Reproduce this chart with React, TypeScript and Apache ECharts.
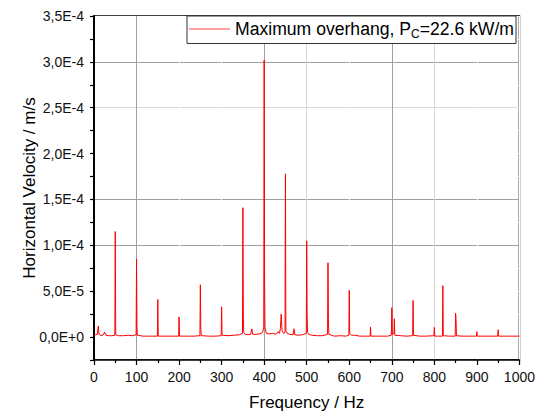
import React, { useEffect, useRef } from 'react';
import * as echarts from 'echarts';

// Frequency (Hz) and horizontal velocity (in 1e-6 m/s)
const FREQ = [
  0, 4, 8, 10, 12, 16, 22, 25, 28, 35, 42, 49, 50, 51, 58, 70, 80, 90, 99, 100, 101, 102,
  115, 130, 149, 150, 151, 170, 185, 199, 200, 201, 220, 235, 249, 250, 251, 252, 270, 285,
  299, 300, 301, 315, 330, 342, 349, 350, 351, 352, 355, 362, 368, 371, 373, 380, 390, 396,
  399, 400, 401, 402, 405, 412, 420, 428, 433, 436, 438, 440, 442, 444, 447, 449, 450, 451,
  454, 460, 468, 470, 472, 480, 490, 499, 500, 501, 502, 505, 512, 525, 538, 549, 550, 551,
  552, 558, 565, 580, 592, 599, 600, 601, 605, 612, 625, 640, 649, 650, 651, 665, 680, 690,
  699, 700, 701, 705, 706, 707, 720, 735, 749, 750, 751, 765, 780, 799, 800, 801, 810, 819,
  820, 821, 835, 849, 850, 851, 852, 865, 880, 899, 900, 901, 915, 930, 949, 950, 951, 970,
  985, 1000,
];
const VEL_E6 = [
  2, 2.5, 3, 12, 3, 1.5, 2.5, 5.5, 2, 1.5, 1.5, 2, 115, 2.5, 1.5, 1.5, 2, 1.5, 2.5, 85, 11, 2,
  1, 1, 1, 41, 1, 1, 1, 1, 22, 1, 1, 1, 1.5, 57, 10, 1.5, 1, 1,
  1.5, 33, 2, 1.5, 2, 2.5, 4, 141, 22, 5, 3, 2.5, 3, 9, 3, 3, 3.5, 5,
  10, 302, 61, 10, 4, 3.5, 4, 3, 6, 4, 9, 25, 7, 5, 4, 6, 178, 7,
  4, 3, 2.5, 9, 2.5, 2, 2.5, 4, 105, 23, 5, 3, 2, 1.5, 1.5, 3, 81, 19,
  3, 2, 1, 1.5, 1, 2, 51, 4, 2, 2, 1, 1, 1, 11, 1, 1, 1, 1,
  2, 32, 3, 4, 20, 2, 1.5, 1, 1.5, 40, 2, 1, 1, 1.5, 10.5, 1, 1, 1,
  56, 1.5, 1, 1, 26, 19, 1.5, 1, 1, 1, 6, 1, 1, 1, 1, 8, 1, 1,
  1, 1,
];

const SERIES_NAME = 'Maximum overhang';
const Y_MAJOR = [0, 5e-5, 1e-4, 1.5e-4, 2e-4, 2.5e-4, 3e-4, 3.5e-4];
const Y_LABELS = ['0,0E+0', '5,0E-5', '1,0E-4', '1,5E-4', '2,0E-4', '2,5E-4', '3,0E-4', '3,5E-4'];
const GRID_X_STRONG = [100, 400, 700];
const GRID_X_LIGHT = [500, 800];
const GRID_Y_STRONG = [3e-4, 1.5e-4, 1e-4];
const GRID_Y_LIGHT = [2.5e-4];

const FONT = '"Liberation Sans", Arial, sans-serif';
const X_MIN = 0;
const X_MAX = 1000;
const X_STEP = 100;
const Y_MIN = -2.5e-5;
const Y_MAX = 3.5e-4;
const Y_STEP = 2.5e-5;

const STRONG = '#a0a0a0';
const LIGHT = '#d8d8d8';
const NONE = '#ffffff';

function yLabel(v: number): string {
  for (let i = 0; i < Y_MAJOR.length; i++) {
    if (Math.abs(v - Y_MAJOR[i]) < 1e-9) return Y_LABELS[i];
  }
  return '';
}

// colour of each split line, one per tick counted from the axis minimum
function splitColors(min: number, max: number, step: number, strong: number[], light: number[]): string[] {
  const n = Math.round((max - min) / step) + 1;
  const out: string[] = [];
  for (let i = 0; i < n; i++) {
    const v = min + i * step;
    const eps = step * 1e-3;
    let c = NONE;
    if (strong.some((g) => Math.abs(g - v) < eps)) c = STRONG;
    if (light.some((g) => Math.abs(g - v) < eps)) c = LIGHT;
    out.push(c);
  }
  return out;
}

export default function App() {
  const ref = useRef<HTMLDivElement>(null);
  useEffect(() => {
    if (!ref.current) return;
    const chart = echarts.init(ref.current, undefined, { renderer: 'svg' });
    const data = FREQ.map((f, i) => [f, VEL_E6[i] * 1e-6]);
    chart.setOption({
      animation: false,
      grid: { left: 94, right: 17, top: 16, bottom: 55, show: true, borderColor: '#000', borderWidth: 1.5, backgroundColor: 'transparent' },
      legend: {
        left: 187,
        top: 16,
        padding: [4, 2, 4, 2],
        borderColor: '#333',
        borderWidth: 1,
        borderRadius: 0,
        backgroundColor: '#fff',
        itemWidth: 41,
        itemHeight: 1.2,
        icon: 'rect',
        itemStyle: { color: '#ff4040' },
        data: [{ name: SERIES_NAME, icon: 'rect' }],
        formatter: () => '{a|Maximum overhang, P}{s|C}{a|=22.6 kW/m}',
        textStyle: {
          color: '#000',
          fontFamily: FONT,
          rich: {
            a: { fontSize: 17.6, lineHeight: 21, fontFamily: FONT, color: '#000', verticalAlign: 'middle' },
            s: { fontSize: 12, lineHeight: 9, fontFamily: FONT, color: '#000', verticalAlign: 'bottom' },
          },
        },
      },
      xAxis: {
        type: 'value', min: X_MIN, max: X_MAX, interval: X_STEP,
        axisLine: { show: true, onZero: false, lineStyle: { color: '#000', width: 1.5 } },
        axisTick: { show: true, inside: false, length: 5, lineStyle: { color: '#000', width: 1.2 } },
        minorTick: { show: true, splitNumber: 2, length: 3, lineStyle: { color: '#000', width: 1.2 } },
        axisLabel: { fontSize: 14, color: '#111', margin: 10, fontFamily: FONT, formatter: (v: number) => String(v) },
        splitLine: {
          show: true,
          lineStyle: { color: splitColors(X_MIN, X_MAX, X_STEP, GRID_X_STRONG, GRID_X_LIGHT), width: 1 },
        },
        name: 'Frequency / Hz', nameLocation: 'middle', nameGap: 34, nameMoveOverlap: false,
        nameTextStyle: { fontSize: 17, color: '#000', fontFamily: FONT },
      },
      yAxis: {
        type: 'value', min: Y_MIN, max: Y_MAX, interval: Y_STEP,
        axisLine: { show: true, onZero: false, lineStyle: { color: '#000', width: 2 } },
        axisTick: { show: true, inside: false, length: 4, lineStyle: { color: '#000', width: 1.2 } },
        axisLabel: { fontSize: 14, color: '#111', margin: 10, fontFamily: FONT, formatter: (v: number) => yLabel(v) },
        splitLine: {
          show: true,
          lineStyle: { color: splitColors(Y_MIN, Y_MAX, Y_STEP, GRID_Y_STRONG, GRID_Y_LIGHT), width: 1 },
        },
        name: 'Horizontal Velocity / m/s', nameLocation: 'middle', nameGap: 56, nameMoveOverlap: false,
        nameTextStyle: { fontSize: 17, color: '#000', fontFamily: FONT },
      },
      series: [
        {
          name: SERIES_NAME,
          type: 'line',
          data,
          symbol: 'none',
          showSymbol: false,
          z: 3,
          lineStyle: { color: '#ff0000', width: 1 },
          itemStyle: { color: '#ff0000' },
        },
      ],
    });
    return () => chart.dispose();
  }, []);
  return (
    <div
      ref={ref}
      style={{ position: 'fixed', left: 0, top: 0, width: 538, height: 416, background: '#fff' }}
    />
  );
}
